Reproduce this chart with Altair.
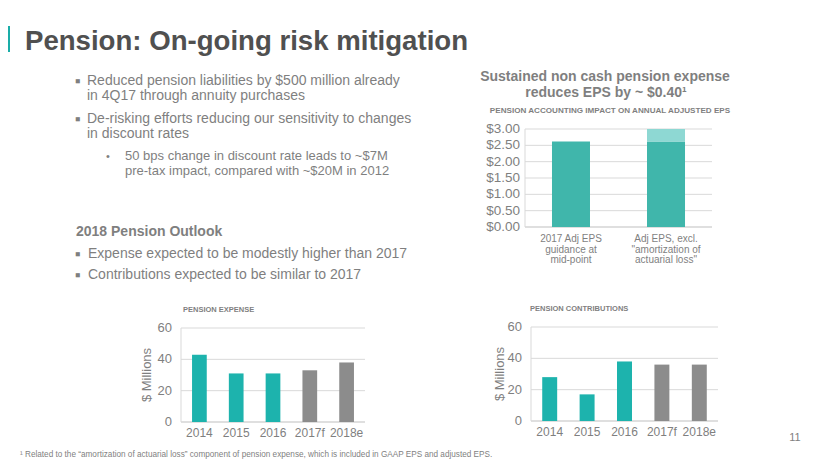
import altair as alt
import pandas as pd

M = 8  # page margin; positions below are page pixels
FONT = "Liberation Sans"

# ---------------- data ----------------
title_text = "Pension: On-going risk mitigation"
bullet_lines = [
    "Reduced pension liabilities by $500 million already",
    "in 4Q17 through annuity purchases",
    "De-risking efforts reducing our sensitivity to changes",
    "in discount rates",
]
sub_bullet_lines = [
    "50 bps change in discount rate leads to ~$7M",
    "pre-tax impact, compared with ~$20M in 2012",
]
outlook_title = "2018 Pension Outlook"
outlook_lines = [
    "Expense expected to be modestly higher than 2017",
    "Contributions expected to be similar to 2017",
]
eps_title_lines = ["Sustained non cash pension expense", "reduces EPS by ~ $0.40\u00b9"]
eps_subtitle = "PENSION ACCOUNTING IMPACT ON ANNUAL ADJUSTED EPS"
eps_categories = ["2017 Adj EPS\nguidance at\nmid-point",
                  "Adj EPS, excl.\n\"amortization of\nactuarial loss\""]
eps_base = [2.62, 2.62]
eps_total = [2.62, 3.00]
eps_ticks = [0.0, 0.5, 1.0, 1.5, 2.0, 2.5, 3.0]
eps_tick_labels = ["$0.00", "$0.50", "$1.00", "$1.50", "$2.00", "$2.50", "$3.00"]

years = ["2014", "2015", "2016", "2017f", "2018e"]
year_kind = ["actual", "actual", "actual", "forecast", "forecast"]
expense = [43, 31, 31, 33, 38]
contributions = [28, 17, 38, 36, 36]
mil_ticks = [0, 20, 40, 60]
mil_tick_labels = ["0", "20", "40", "60"]
expense_title = "PENSION EXPENSE"
contrib_title = "PENSION CONTRIBUTIONS"
y_title = "$ Millions"
footnote = ("\u00b9 Related to the \u201camortization of actuarial loss\u201d component of pension "
            "expense, which is included in GAAP EPS and adjusted EPS.")
page_number = "11"

TEAL = "#1DB3AD"
GRAY = "#8C8C8C"
EPS_TEAL = "#40B6AB"
EPS_LIGHT = "#8ED8D3"
TEXT = "#7F7F7F"
GRID = "#D9D9D9"
kind_color = {"actual": TEAL, "forecast": GRAY}


def text(s, x, y, size, color=TEXT, weight="normal", align="left",
         baseline="alphabetic", angle=None, lineHeight=None):
    kw = dict(align=align, baseline=baseline, fontSize=size, color=color,
              fontWeight=weight, font=FONT)
    if angle is not None:
        kw["angle"] = angle
    if lineHeight is not None:
        kw["lineHeight"] = lineHeight
    return alt.Chart(pd.DataFrame({"t": [s]})).mark_text(**kw).encode(
        x=alt.value(x - M), y=alt.value(y - M), text="t:N")


def panel(cats, base, top, colors, x0, x1, yt, yb, dom, ticks, tick_labels,
          pin, pout, ylab_x, xlab_y, xlab_size, ylab_size, line_height=None,
          top_colors=None):
    xs = alt.Scale(domain=cats, range=[x0 - M, x1 - M], paddingInner=pin, paddingOuter=pout)
    ys = alt.Scale(domain=dom, range=[yb - M, yt - M], nice=False, zero=False)
    bars = pd.DataFrame({"cat": cats, "v": base, "c": colors})
    tk = pd.DataFrame({"tick": ticks, "lab": tick_labels})
    grid = alt.Chart(tk[tk.tick > dom[0]]).mark_rule(color=GRID, strokeWidth=1).encode(
        y=alt.Y("tick:Q", scale=ys, axis=None),
        x=alt.value(x0 - M), x2=alt.value(x1 - M))
    base_line = alt.Chart(tk[tk.tick == dom[0]]).mark_rule(color="#BFBFBF", strokeWidth=1).encode(
        y=alt.Y("tick:Q", scale=ys, axis=None),
        x=alt.value(x0 - M), x2=alt.value(x1 - M))
    left_line = alt.Chart(pd.DataFrame({"a": [0]})).mark_rule(color=GRID, strokeWidth=1).encode(
        x=alt.value(x0 - M), y=alt.value(yt - M), y2=alt.value(yb - M))
    b = alt.Chart(bars).mark_bar().encode(
        x=alt.X("cat:N", scale=xs, axis=None, sort=cats),
        y=alt.Y("v:Q", scale=ys, axis=None),
        y2=alt.datum(dom[0]),
        color=alt.Color("c:N", scale=None))
    layers = [grid, base_line, left_line, b]
    if top is not None:
        td = pd.DataFrame({"cat": cats, "lo": base, "hi": top, "c": top_colors})
        td = td[td.hi > td.lo]
        layers.append(alt.Chart(td).mark_bar().encode(
            x=alt.X("cat:N", scale=xs, axis=None, sort=cats),
            y=alt.Y("hi:Q", scale=ys, axis=None), y2="lo:Q",
            color=alt.Color("c:N", scale=None)))
    ylab = alt.Chart(tk).mark_text(align="right", baseline="middle", fontSize=ylab_size,
                                   color=TEXT, font=FONT).encode(
        y=alt.Y("tick:Q", scale=ys, axis=None), x=alt.value(ylab_x - M), text="lab:N")
    xkw = dict(align="center", baseline="top", fontSize=xlab_size, color=TEXT, font=FONT,
               lineBreak="\n")
    if line_height is not None:
        xkw["lineHeight"] = line_height
    xlab = alt.Chart(pd.DataFrame({"cat": cats})).mark_text(**xkw).encode(
        x=alt.X("cat:N", scale=xs, axis=None, sort=cats), y=alt.value(xlab_y - M), text="cat:N")
    layers += [ylab, xlab]
    return alt.layer(*layers)


# ---------------- panels ----------------
eps_panel = panel(eps_categories, eps_base, eps_total, [EPS_TEAL, EPS_TEAL],
                  525, 712, 129, 227, [0, 3.0], eps_ticks, eps_tick_labels,
                  0.6, 0.284, 520, 234, 10, 13.5, line_height=10.5,
                  top_colors=[EPS_LIGHT, EPS_LIGHT])
exp_colors = [kind_color[k] for k in year_kind]
exp_panel = panel(years, expense, None, exp_colors,
                  181, 365, 328, 422, [0, 60], mil_ticks, mil_tick_labels,
                  0.6, 0.3, 172, 428, 12, 13)
con_panel = panel(years, contributions, None, exp_colors,
                  531, 718, 327, 421, [0, 60], mil_ticks, mil_tick_labels,
                  0.6, 0.3, 522, 427, 12, 13)

# ---------------- texts ----------------
texts = []
texts.append(alt.Chart(pd.DataFrame({"a": [0]})).mark_rect(color="#1AADA8").encode(
    x=alt.value(0), x2=alt.value(2), y=alt.value(26 - M), y2=alt.value(52 - M)))
texts.append(text(title_text, 25, 50, 27.6, color="#505050", weight="bold"))
bullet_y = [85, 100, 123, 138]
for i, (s, yy) in enumerate(zip(bullet_lines, bullet_y)):
    if i in (0, 2):
        texts.append(text("\u25a0", 75, yy - 1, 8.5))
    texts.append(text(s, 87, yy, 14))
for s, yy in zip(sub_bullet_lines, [160, 175]):
    if yy == 160:
        texts.append(text("\u2022", 106, yy, 11))
    texts.append(text(s, 125, yy, 13))
texts.append(text(outlook_title, 76, 236, 14, weight="bold"))
for s, yy in zip(outlook_lines, [258, 279]):
    texts.append(text("\u25a0", 75, yy - 1, 8.5))
    texts.append(text(s, 88, yy, 14))
texts.append(text(eps_title_lines[0], 605, 81, 14, weight="bold", align="center"))
texts.append(text(eps_title_lines[1], 606, 97, 14, weight="bold", align="center"))
texts.append(text(eps_subtitle, 610, 113, 8.1, weight="bold", align="center"))
texts.append(text(expense_title, 183, 312, 7.5, weight="bold"))
texts.append(text(contrib_title, 530, 311, 7.5, weight="bold"))
texts.append(text(y_title, 147, 375, 13, align="center", baseline="middle", angle=270))
texts.append(text(y_title, 500, 374, 13, align="center", baseline="middle", angle=270))
texts.append(text(page_number, 795, 441, 11, align="center"))
texts.append(text(footnote, 20, 457, 8.2))

chart = alt.layer(eps_panel, exp_panel, con_panel, *texts).resolve_scale(
    x="independent", y="independent"
).properties(
    width=814, height=451, padding=0,
    autosize=alt.AutoSizeParams(type="none"),
    background="white",
).configure_view(strokeWidth=0)

chart.save("out.html", embed_options={"renderer": "svg", "actions": False})
